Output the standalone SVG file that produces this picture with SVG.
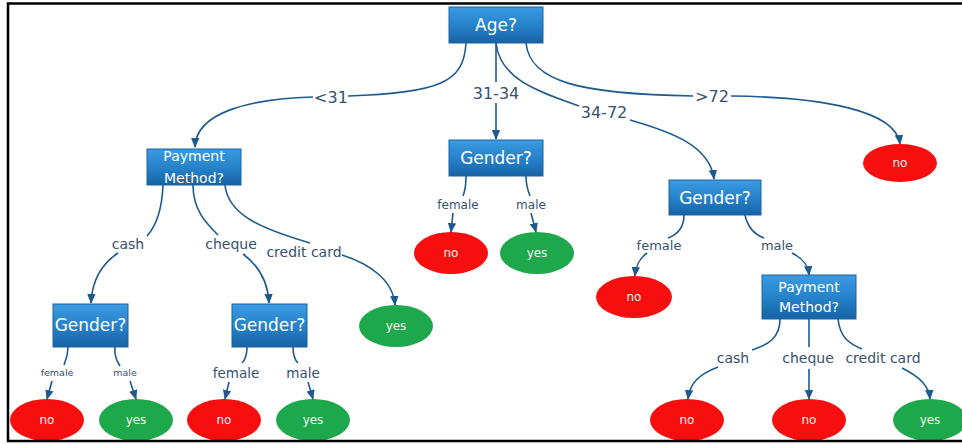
<svg xmlns="http://www.w3.org/2000/svg" width="962" height="444" viewBox="0 0 962 444">
<defs>
<linearGradient id="boxg" x1="0" y1="0" x2="0" y2="1">
<stop offset="0" stop-color="#3b9be0"/>
<stop offset="0.55" stop-color="#2580c8"/>
<stop offset="1" stop-color="#1762a3"/>
</linearGradient>
<marker id="arr" markerUnits="userSpaceOnUse" markerWidth="10" markerHeight="10" viewBox="0 0 10 10" refX="9" refY="5" orient="auto">
<path d="M0,0.8 L10,5 L0,9.2 Z" fill="#1d5b8e"/>
</marker>
<style>
.box{fill:url(#boxg);stroke:#1a64a5;stroke-width:1}
.bt{font-family:"DejaVu Sans",Verdana,sans-serif;fill:#ffffff;text-anchor:middle}
.no{fill:#f70f0f}
.yes{fill:#1ea84c}
.et{font-family:"DejaVu Sans",Verdana,sans-serif;font-size:12px;fill:#f3f3f3;text-anchor:middle}
.c{fill:none;stroke:#1d5b8e;stroke-width:1.6}
.ca{fill:none;stroke:#1d5b8e;stroke-width:1.6;marker-end:url(#arr)}
.lb{font-family:"DejaVu Sans",Verdana,sans-serif;fill:#35526f;text-anchor:middle}
</style>
</defs>
<rect x="0" y="0" width="962" height="444" fill="#ffffff"/>

<g id="connectors">
<!-- Age -> <31 -->
<path class="c" d="M466,43 C464,82 440,93 348,96"/>
<path class="ca" d="M313,97 C250,99 196,112 195,147"/>
<!-- 31-34 -->
<path class="c" d="M496,43 L496,82"/>
<path class="ca" d="M496,103 L496,139"/>
<!-- 34-72 -->
<path class="c" d="M496,43 C500,80 540,92 579,106"/>
<path class="ca" d="M630,120 C672,132 710,146 714,179"/>
<!-- >72 -->
<path class="c" d="M526,43 C530,82 580,94 693,96"/>
<path class="ca" d="M731,96 C820,97 896,110 900,144"/>
<!-- mid gender -->
<path class="c" d="M466,176 C466,186 465,191 463,196"/>
<path class="ca" d="M453,213 L451,232"/>
<path class="c" d="M526,176 C526,186 528,191 530,196"/>
<path class="ca" d="M531,213 L536,232"/>
<!-- left payment -->
<path class="c" d="M163,185 C162,210 157,225 147,236"/>
<path class="ca" d="M118,253 C100,265 92,282 91,303"/>
<path class="c" d="M193,185 C193,210 206,223 218,235"/>
<path class="ca" d="M243,254 C258,265 268,282 269,303"/>
<path class="c" d="M225,185 C228,215 262,229 310,243"/>
<path class="ca" d="M342,255 C370,264 393,280 395,305"/>
<!-- gender cash -->
<path class="c" d="M68,347 C68,356 66,360 64,365"/>
<path class="ca" d="M52,381 L47,399"/>
<path class="c" d="M115,347 C114,356 117,361 120,366"/>
<path class="ca" d="M130,381 L136,399"/>
<!-- gender cheque -->
<path class="c" d="M247,347 C247,356 245,360 242,363"/>
<path class="ca" d="M229,382 L225,399"/>
<path class="c" d="M293,347 C293,356 295,360 298,363"/>
<path class="ca" d="M308,382 L313,399"/>
<!-- right gender -->
<path class="c" d="M684,215 C684,229 676,235 668,238"/>
<path class="ca" d="M647,253 C640,258 636,264 635,276"/>
<path class="c" d="M745,215 C748,229 756,235 764,238"/>
<path class="ca" d="M792,253 C802,258 808,264 809,275"/>
<!-- right payment -->
<path class="c" d="M780,319 C780,338 768,345 752,350"/>
<path class="ca" d="M718,367 C700,374 690,382 688,399"/>
<path class="c" d="M809,319 L809,347"/>
<path class="ca" d="M809,369 L809,399"/>
<path class="c" d="M838,319 C840,338 850,344 862,349"/>
<path class="ca" d="M902,368 C920,377 929,386 930,399"/>
</g>

<g id="edge-labels">
<text class="lb" x="331" y="103" font-size="16">&lt;31</text>
<text class="lb" x="496" y="99" font-size="16">31-34</text>
<text class="lb" x="604" y="118" font-size="16">34-72</text>
<text class="lb" x="712" y="102" font-size="16">&gt;72</text>
<text class="lb" x="458" y="209" font-size="12">female</text>
<text class="lb" x="531" y="209" font-size="12">male</text>
<text class="lb" x="128" y="249" font-size="14">cash</text>
<text class="lb" x="231" y="249" font-size="14">cheque</text>
<text class="lb" x="304" y="257" font-size="14">credit card</text>
<text class="lb" x="57" y="376" font-size="9.5">female</text>
<text class="lb" x="125" y="376" font-size="9.5">male</text>
<text class="lb" x="236" y="378" font-size="13.5">female</text>
<text class="lb" x="303" y="378" font-size="13.5">male</text>
<text class="lb" x="659" y="250" font-size="13">female</text>
<text class="lb" x="777" y="250" font-size="13">male</text>
<text class="lb" x="733" y="363" font-size="14">cash</text>
<text class="lb" x="808" y="363" font-size="14">cheque</text>
<text class="lb" x="883" y="363" font-size="14">credit card</text>
</g>

<g id="n-age"><rect class="box" x="449" y="7" width="94" height="36"/><text class="bt" x="496" y="31" font-size="17">Age?</text></g>
<g id="n-pay1"><rect class="box" x="147" y="149" width="94" height="36"/><text class="bt" x="194" y="161" font-size="14">Payment</text><text class="bt" x="194" y="183" font-size="14">Method?</text></g>
<g id="n-gen-mid"><rect class="box" x="449" y="140" width="94" height="36"/><text class="bt" x="496" y="164" font-size="17">Gender?</text></g>
<g id="n-gen-right"><rect class="box" x="669" y="180" width="92" height="35"/><text class="bt" x="715" y="204" font-size="17">Gender?</text></g>
<g id="n-no-72"><ellipse class="no" cx="900" cy="163" rx="37" ry="19"/><text class="et" x="900" y="167">no</text></g>
<g id="n-gen-cash"><rect class="box" x="53" y="304" width="75" height="43"/><text class="bt" x="90.5" y="331" font-size="17">Gender?</text></g>
<g id="n-gen-cheque"><rect class="box" x="232" y="304" width="75" height="43"/><text class="bt" x="269.5" y="331" font-size="17">Gender?</text></g>
<g id="n-yes-cc1"><ellipse class="yes" cx="396" cy="326" rx="37" ry="21"/><text class="et" x="396" y="330">yes</text></g>
<g id="n-no-mid"><ellipse class="no" cx="451" cy="253" rx="37" ry="21"/><text class="et" x="451" y="257">no</text></g>
<g id="n-yes-mid"><ellipse class="yes" cx="537" cy="253" rx="37" ry="21"/><text class="et" x="537" y="257">yes</text></g>
<g id="n-no-right"><ellipse class="no" cx="634" cy="297" rx="38" ry="21"/><text class="et" x="634" y="301">no</text></g>
<g id="n-pay2"><rect class="box" x="762" y="275" width="94" height="44"/><text class="bt" x="809" y="292" font-size="14">Payment</text><text class="bt" x="809" y="312" font-size="14">Method?</text></g>
<g id="n-no-1"><ellipse class="no" cx="47" cy="420" rx="37" ry="21"/><text class="et" x="47" y="424">no</text></g>
<g id="n-yes-1"><ellipse class="yes" cx="136" cy="420" rx="37" ry="21"/><text class="et" x="136" y="424">yes</text></g>
<g id="n-no-2"><ellipse class="no" cx="224" cy="420" rx="37" ry="21"/><text class="et" x="224" y="424">no</text></g>
<g id="n-yes-2"><ellipse class="yes" cx="313" cy="420" rx="37" ry="21"/><text class="et" x="313" y="424">yes</text></g>
<g id="n-no-3"><ellipse class="no" cx="687" cy="420" rx="37" ry="21"/><text class="et" x="687" y="424">no</text></g>
<g id="n-no-4"><ellipse class="no" cx="809" cy="420" rx="37" ry="21"/><text class="et" x="809" y="424">no</text></g>
<g id="n-yes-3"><ellipse class="yes" cx="930" cy="420" rx="37" ry="21"/><text class="et" x="930" y="424">yes</text></g>

<rect x="8" y="3.5" width="965" height="437.5" fill="none" stroke="#000000" stroke-width="2.5"/>
</svg>
